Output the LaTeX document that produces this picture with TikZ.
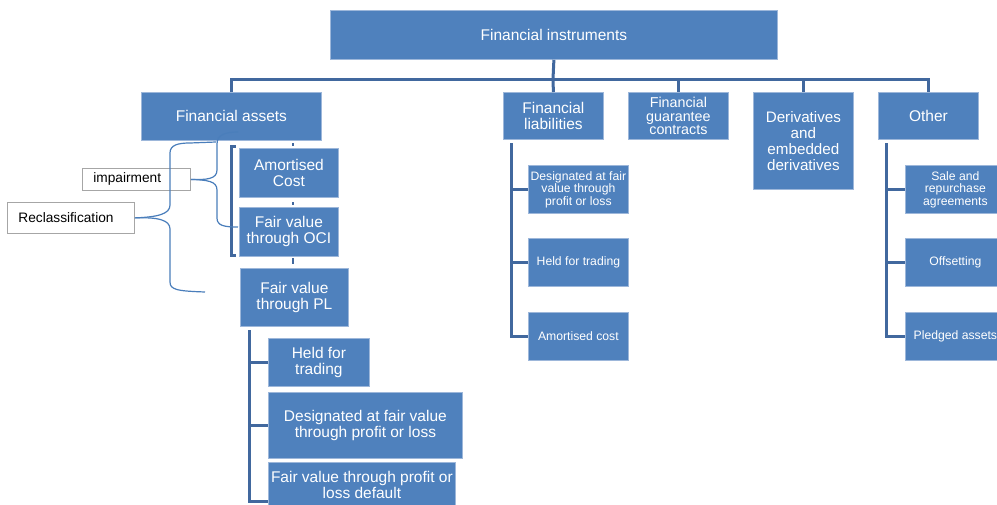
\documentclass[tikz,border=0pt]{standalone}
\usepackage{fontspec}
\setmainfont{Liberation Sans}
\definecolor{boxblue}{HTML}{4F81BD}
\definecolor{boxedge}{HTML}{9DB7DA}
\definecolor{linecol}{HTML}{41689E}
\definecolor{bracecol}{HTML}{4A7EBB}
\definecolor{notegray}{HTML}{A6A6A6}
\begin{document}
\begin{tikzpicture}[x=1pt,y=-1pt,
  box/.style={draw=boxedge, line width=0.8pt, fill=boxblue, text=white, inner sep=0.5pt, align=center, anchor=north west, font=\fontsize{15.5}{16}\selectfont},
  small/.style={font=\fontsize{12.2}{12.5}\selectfont},
  conn/.style={draw=linecol, line width=3pt},
  brace/.style={draw=bracecol, line width=1.2pt},
  note/.style={draw=notegray, line width=0.8pt, fill=white, anchor=north west, inner xsep=11pt, inner ysep=0pt, align=left, font=\fontsize{13.7}{15}\selectfont, text=black}]
\useasboundingbox (0,0) rectangle (997,504);
\clip (0,0) rectangle (997,504);
\fill[white] (0,0) rectangle (997,504);

% top level
\node[box, minimum width=447pt, minimum height=49pt] (top) at (330,10) {Financial instruments};
\node[box, minimum width=180pt, minimum height=48pt] (fa) at (141,92) {Financial assets};
\node[box, minimum width=100pt, minimum height=47pt] (fl) at (503,92) {Financial\\liabilities};
\node[box, minimum width=100pt, minimum height=47pt, font=\fontsize{14.3}{13.5}\selectfont] (fg) at (628,92) {Financial\\guarantee\\contracts};
\node[box, minimum width=100pt, minimum height=97pt, font=\fontsize{15.2}{16}\selectfont] (dv) at (753,92) {Derivatives\\and\\embedded\\derivatives};
\node[box, minimum width=100pt, minimum height=47pt] (ot) at (878,92) {Other};

\coordinate (bar) at (553,79);
\draw[conn] (top.south) -- (bar);
\draw[conn] (fa.north) |- (ot.north |- bar) -- (ot.north);
\draw[conn] (bar) -- (fl.north);
\draw[conn] (fg.north |- bar) -- (fg.north);
\draw[conn] (dv.north |- bar) -- (dv.north);

% liabilities children
\node[box, small, minimum width=100pt, minimum height=48pt] (l1) at (528,165) {Designated at fair\\value through\\profit or loss};
\node[box, small, minimum width=100pt, minimum height=48pt] (l2) at (528,238) {Held for trading};
\node[box, small, minimum width=100pt, minimum height=48pt] (l3) at (528,312) {Amortised cost};
\coordinate (flb) at (511,143);
\draw[conn] (flb) |- (l3.west);
\draw[conn] (flb |- l1.west) -- (l1.west);
\draw[conn] (flb |- l2.west) -- (l2.west);

% other children
\node[box, small, minimum width=100pt, minimum height=48pt] (o1) at (905,165) {Sale and\\repurchase\\agreements};
\node[box, small, minimum width=100pt, minimum height=48pt] (o2) at (905,238) {Offsetting};
\node[box, small, minimum width=100pt, minimum height=48pt] (o3) at (905,312) {Pledged assets};
\coordinate (otb) at (886,143);
\draw[conn] (otb) |- (o3.west);
\draw[conn] (otb |- o1.west) -- (o1.west);
\draw[conn] (otb |- o2.west) -- (o2.west);

% financial assets children
\node[box, minimum width=99pt, minimum height=49pt] (ac) at (239,148) {Amortised\\Cost};
\node[box, minimum width=99pt, minimum height=49pt] (oci) at (239,207) {Fair value\\through OCI};
\node[box, minimum width=108pt, minimum height=58pt] (pl) at (240,268) {Fair value\\through PL};
\coordinate (fab) at (231,146);
\coordinate (fae) at (231,255);
\draw[conn] ([xshift=5pt]fab) -- (fab) -- (fae) -- ([xshift=5pt]fae);
\draw[draw=linecol, line width=2.5pt] (293,143) -- (293,146);
\draw[draw=linecol, line width=2.5pt] (293,202) -- (293,205);
\draw[draw=linecol, line width=2.5pt] (293,258) -- (293,264);

% PL children
\node[box, minimum width=101pt, minimum height=48pt] (p1) at (268,338) {Held for\\trading};
\node[box, minimum width=194pt, minimum height=66pt] (p2) at (268,392) {Designated at fair value\\through profit or loss};
\node[box, minimum width=187pt, minimum height=46pt] (p3) at (268,462) {Fair value through profit or\\loss default};
\coordinate (plb) at (249,330);
\draw[conn] (plb) -- (249,501) -- (268,501);
\draw[conn] (plb |- p1.west) -- (p1.west);
\draw[conn] (plb |- p2.west) -- (p2.west);

% notes
\node[note, minimum width=108pt, minimum height=22pt, text width=86pt] (imp) at (82,168) {impairment};
\node[note, minimum width=127pt, minimum height=31pt, text width=105pt] (rec) at (7,202) {Reclassification};

\coordinate (impA) at (238,132);
\coordinate (impB) at (238,227);
\coordinate (recA) at (216,142);
\coordinate (recB) at (205,292);
\draw[brace] (imp.east) .. controls (207,180) and (217,179) .. (217,170) -- (217,144) .. controls (217,135) and (225,132) .. (impA);
\draw[brace] (imp.east) .. controls (207,180) and (217,181) .. (217,190) -- (217,218) .. controls (217,226) and (225,227) .. (impB);
\draw[brace] (rec.east) .. controls (158,217) and (170,214) .. (170,205) -- (170,153) .. controls (170,145) and (178,143) .. (190,143) -- (recA);
\draw[brace] (rec.east) .. controls (158,217) and (170,220) .. (170,229) -- (170,282) .. controls (170,290) and (178,291) .. (recB);
\end{tikzpicture}
\end{document}
